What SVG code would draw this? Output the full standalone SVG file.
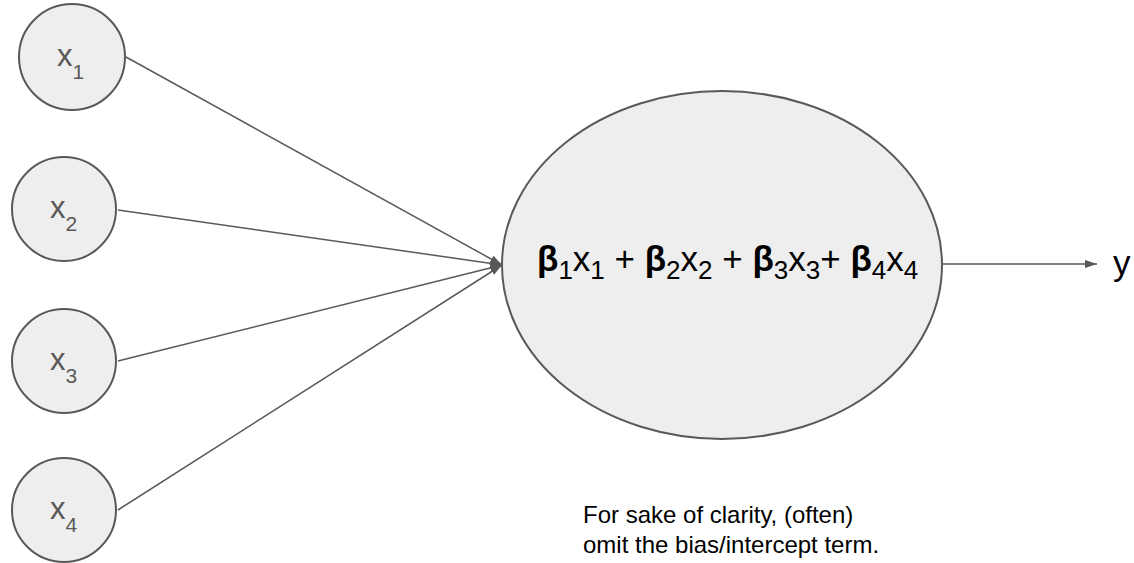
<svg xmlns="http://www.w3.org/2000/svg" width="1134" height="563" viewBox="0 0 1134 563">
<style>
.node{fill:#eeeeee;stroke:#595959;stroke-width:2}
.lbl{font-family:"Liberation Sans",Arial,sans-serif;fill:#595959;font-size:31px}
.sub{font-size:21px}
.conn{stroke:#595959;stroke-width:1.5;fill:none}
.f{font-family:"Liberation Sans",Arial,sans-serif;fill:#000;font-size:35px}
.fs{font-size:26px}
.note{font-family:"Liberation Sans",Arial,sans-serif;fill:#000;font-size:24px}
</style>
<defs>
<marker id="ah" markerWidth="12" markerHeight="8" refX="12" refY="4" orient="auto" markerUnits="userSpaceOnUse">
<path d="M0,0 L12,4 L0,8 z" fill="#595959"/>
</marker>
</defs>
<g id="connectors">
<line class="conn" x1="126" y1="57" x2="502" y2="265" marker-end="url(#ah)"/>
<line class="conn" x1="118" y1="210" x2="502" y2="265" marker-end="url(#ah)"/>
<line class="conn" x1="118" y1="361" x2="502" y2="265" marker-end="url(#ah)"/>
<line class="conn" x1="118" y1="510" x2="502" y2="265" marker-end="url(#ah)"/>
<line class="conn" x1="942" y1="264" x2="1097" y2="264" marker-end="url(#ah)"/>
</g>
<g id="x1">
<circle class="node" cx="72" cy="57" r="53"/>
<text class="lbl" x="57" y="66">x<tspan class="sub" dy="13">1</tspan></text>
</g>
<g id="x2">
<circle class="node" cx="64" cy="209" r="52"/>
<text class="lbl" x="50" y="218">x<tspan class="sub" dy="13">2</tspan></text>
</g>
<g id="x3">
<circle class="node" cx="64" cy="361" r="52"/>
<text class="lbl" x="50" y="370">x<tspan class="sub" dy="13">3</tspan></text>
</g>
<g id="x4">
<circle class="node" cx="64" cy="510" r="52"/>
<text class="lbl" x="50" y="519">x<tspan class="sub" dy="13">4</tspan></text>
</g>
<g id="sum">
<ellipse class="node" cx="722" cy="265" rx="220" ry="174"/>
<text class="f" x="537" y="271"><tspan font-weight="bold">β</tspan><tspan class="fs" dy="8">1</tspan><tspan dy="-8">x</tspan><tspan class="fs" dy="8">1</tspan><tspan dy="-8"> + </tspan><tspan font-weight="bold">β</tspan><tspan class="fs" dy="8">2</tspan><tspan dy="-8">x</tspan><tspan class="fs" dy="8">2</tspan><tspan dy="-8"> + </tspan><tspan font-weight="bold">β</tspan><tspan class="fs" dy="8">3</tspan><tspan dy="-8">x</tspan><tspan class="fs" dy="8">3</tspan><tspan dy="-8">+ </tspan><tspan font-weight="bold">β</tspan><tspan class="fs" dy="8">4</tspan><tspan dy="-8">x</tspan><tspan class="fs" dy="8">4</tspan></text>
</g>
<g id="y">
<text class="f" x="1113" y="275">y</text>
</g>
<g id="note">
<text class="note" x="583" y="523">For sake of clarity, (often)</text>
<text class="note" x="583" y="553">omit the bias/intercept term.</text>
</g>
</svg>
